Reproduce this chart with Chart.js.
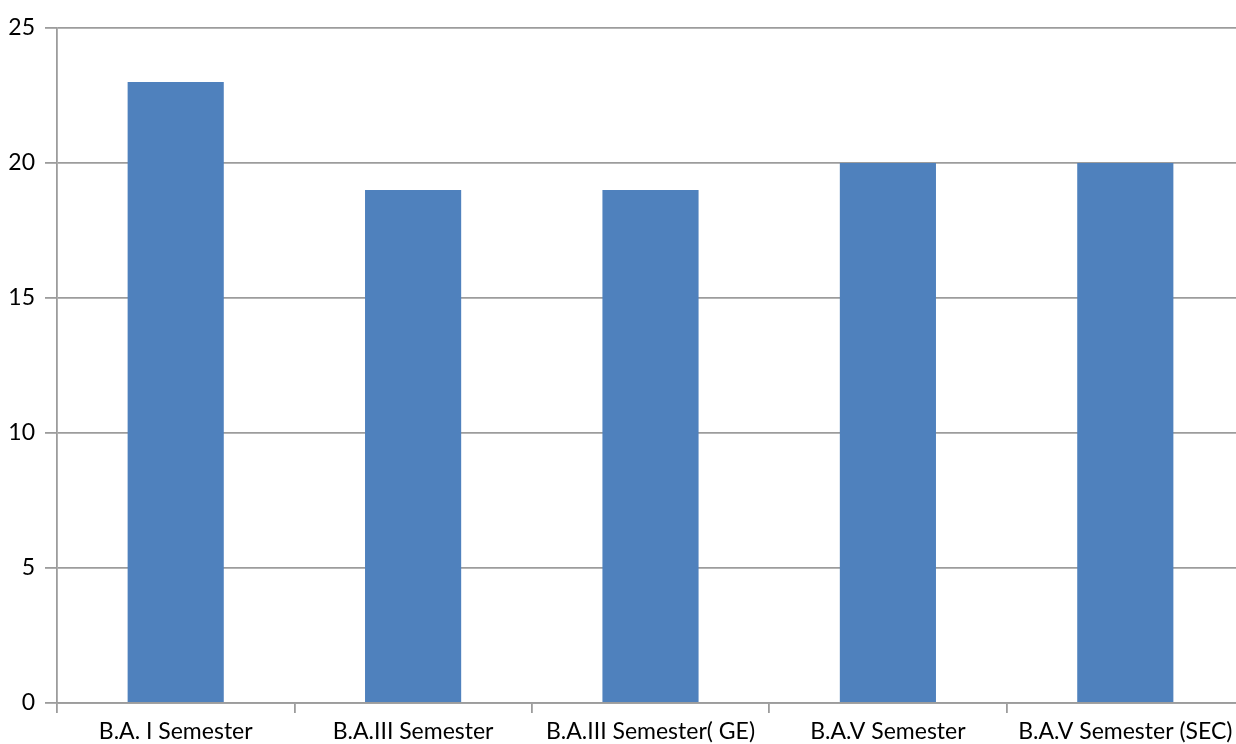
<!DOCTYPE html>
<html>
<head>
<meta charset="utf-8">
<script src="https://cdn.jsdelivr.net/npm/chart.js@4.4.0/dist/chart.umd.min.js"></script>
<style>
  html, body { margin:0; padding:0; background:#fff; overflow:hidden; }
  #wrap { width:1244px; height:744px; }
</style>
</head>
<body>
<div id="wrap"><canvas id="chart" width="1244" height="744"></canvas></div>
<script>
// dados do gráfico
const categories = ['B.A. I Semester', 'B.A.III Semester', 'B.A.III Semester( GE)', 'B.A.V Semester', 'B.A.V Semester (SEC)'];
const values = [23, 19, 19, 20, 20];
const yTicks = [0, 5, 10, 15, 20, 25];

const gridColor = '#9c9c9c';

const ctx = document.getElementById('chart').getContext('2d');
const chart = new Chart(ctx, {
    type: 'bar',
    data: {
        labels: categories,
        datasets: [{ data: values, backgroundColor: '#4f81bd', borderWidth: 0,
                     categoryPercentage: 1.0, barPercentage: 0.405 }]
    },
    options: {
        responsive: false,
        animation: false,
        layout: { padding: { top: 28, right: 0, left: 0, bottom: 0 } },
        plugins: { legend: { display: false }, tooltip: { enabled: false } },
        scales: {
            x: {
                offset: true,
                grid: { drawOnChartArea: false, drawTicks: true, tickLength: 10, color: gridColor, lineWidth: 1.8, offset: true },
                border: { display: true, color: gridColor, width: 1.8 },
                ticks: { color: '#000', font: { family: 'Lato', size: 23 }, padding: 5, maxRotation: 0, autoSkip: false },
                afterFit: function(s){ s.height = 41; }
            },
            y: {
                min: 0, max: 25,
                afterBuildTicks: function(s){ s.ticks = yTicks.map(v => ({ value: v })); },
                grid: { color: gridColor, lineWidth: 1.8, tickLength: 12 },
                border: { display: true, color: gridColor, width: 1.8 },
                ticks: { color: '#000', font: { family: 'Lato', size: 23 }, padding: 10 },
                afterFit: function(s){ s.width = 57; }
            }
        }
    }
});
</script>
</body>
</html>
